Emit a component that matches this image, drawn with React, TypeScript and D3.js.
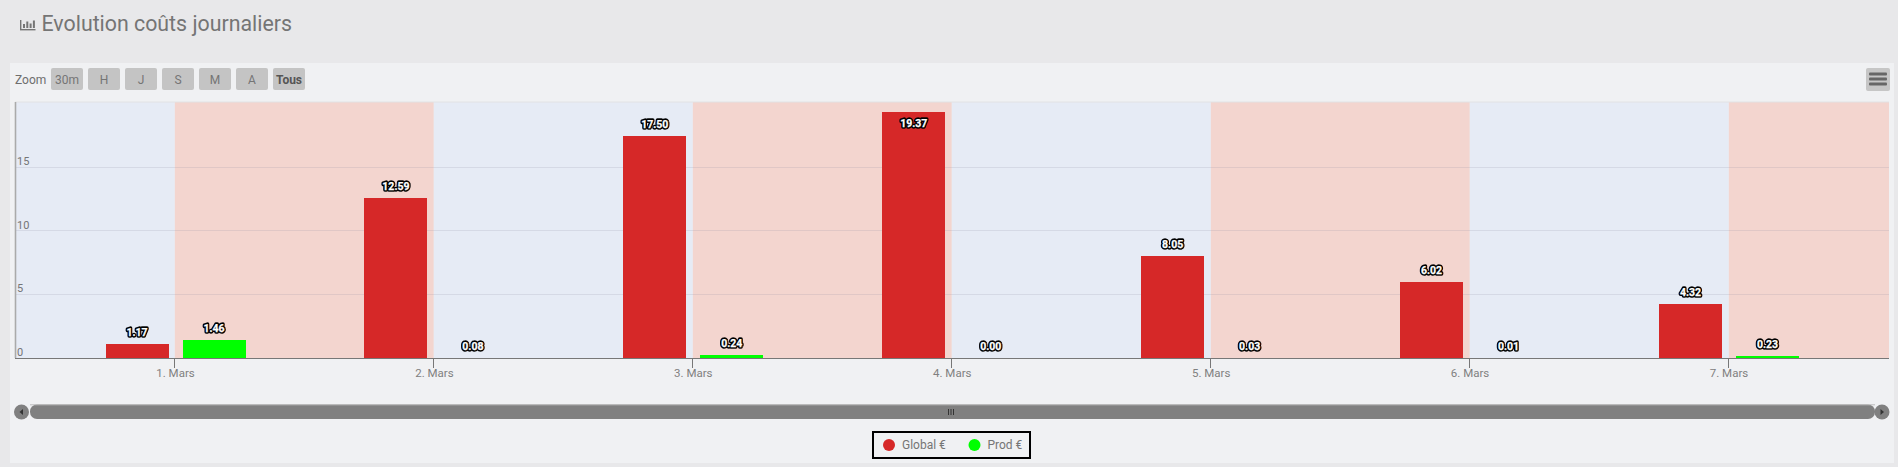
import React from "react";
import * as d3 from "d3";

const days = ["1. Mars", "2. Mars", "3. Mars", "4. Mars", "5. Mars", "6. Mars", "7. Mars"];
const globalValues = [1.17, 12.59, 17.5, 19.37, 8.05, 6.02, 4.32];
const prodValues = [1.46, 0.08, 0.24, 0.0, 0.03, 0.01, 0.23];
const yTicks = [0, 5, 10, 15];
const zoomButtons = ["30m", "H", "J", "S", "M", "A", "Tous"];
const legendItems = [
  { name: "Global €", color: "#d62828" },
  { name: "Prod €", color: "#00ff00" },
];

const FONT = "Roboto, sans-serif";
const x = d3.scaleLinear().domain([0, 6]).range([174.5, 1728]);
const xBand = d3.scaleLinear().domain([0, 6]).range([174.8, 1728.8]);
const y = d3.scaleLinear().domain([0, 19.37]).range([358, 111.8]);
const L = 15, R = 1889, T = 102, B = 358;
const BAR_W = 63;

const bandEdges = [L, ...days.map((_, i) => xBand(i)), R];
const barH = (v: number) => Math.max(0, Math.floor(B - y(v) - 0.02));

function Label({ cx, top, v }: { cx: number; top: number; v: number }) {
  const ty = Math.max(top - 8, 127);
  const s = v.toFixed(2);
  const common = {
    x: cx, y: ty, textAnchor: "middle" as const, fontFamily: FONT, fontSize: 10.5, fontWeight: 700,
  };
  return (
    <g>
      <text {...common} fill="#000" stroke="#000" strokeWidth={3.4} strokeLinejoin="round" filter="url(#halo)">{s}</text>
      <text {...common} fill="#fff" stroke="#fff" strokeWidth={0.25}>{s}</text>
    </g>
  );
}

export default function App() {
  return (
    <svg width={1898} height={467} style={{ position: "absolute", left: 0, top: 0, display: "block" }}>
      <defs>
        <filter id="halo" x="-30%" y="-50%" width="160%" height="200%">
          <feGaussianBlur stdDeviation={0.7} />
        </filter>
      </defs>
      <rect width={1898} height={467} fill="#e8e8ea" />
      {/* title */}
      <g fill="#757575">
        <rect x={20} y={20} width={1.4} height={10} />
        <rect x={20} y={29} width={15.5} height={1.4} />
        <rect x={23} y={24} width={2} height={4} />
        <rect x={26.3} y={21.5} width={2} height={6.5} />
        <rect x={29.6} y={23.5} width={2} height={4.5} />
        <rect x={32.9} y={20.5} width={2} height={7.5} />
      </g>
      <text x={41.5} y={31} fontFamily={FONT} fontSize={21.33} fill="#757575">Evolution coûts journaliers</text>

      {/* panel */}
      <rect x={10} y={63} width={1884} height={400} fill="#f0f1f3" />

      {/* range selector */}
      <text x={15} y={84} fontFamily={FONT} fontSize={12} fill="#6e6e6e">Zoom</text>
      {zoomButtons.map((b, i) => (
        <g key={b}>
          <rect x={51 + i * 37} y={68} width={32} height={22} rx={2} fill="#c4c4c4" />
          <text x={67 + i * 37} y={84} textAnchor="middle" fontFamily={FONT} fontSize={12}
            fontWeight={b === "Tous" ? 700 : 400} fill={b === "Tous" ? "#555" : "#757575"}>{b}</text>
        </g>
      ))}
      {/* menu */}
      <rect x={1866} y={68} width={24} height={23} rx={2} fill="#c6c6c6" />
      {[74, 79, 84].map((yy) => (
        <rect key={yy} x={1869} y={yy - 1.5} width={18} height={3} rx={1} fill="#666" />
      ))}

      {/* bands */}
      {bandEdges.slice(0, -1).map((e, i) => (
        <rect key={i} x={e} y={T} width={bandEdges[i + 1] - e} height={B - T}
          fill={i % 2 === 0 ? "#e6ebf5" : "#f3d5cf"} />
      ))}
      <line x1={L} x2={R} y1={T} y2={T} stroke="#e2e2e4" />
      {/* grid */}
      {yTicks.filter((t) => t > 0).map((t) => (
        <line key={t} x1={L} x2={R} y1={Math.floor(y(t)) + 0.5} y2={Math.floor(y(t)) + 0.5} stroke="#8a8aa0" strokeOpacity={0.18} />
      ))}
      {yTicks.map((t) => (
        <text key={t} x={17} y={y(t) - 2} fontFamily={FONT} fontSize={11} fill="#757575">{t}</text>
      ))}

      {/* bars */}
      {globalValues.map((v, i) => (
        <rect key={i} x={Math.round(x(i) - 69)} y={B - barH(v)} width={BAR_W} height={barH(v)} fill={legendItems[0].color} />
      ))}
      {prodValues.map((v, i) => (
        <rect key={i} x={Math.round(x(i) - 69) + 77} y={B - barH(v)} width={BAR_W} height={barH(v)} fill={legendItems[1].color} />
      ))}

      {/* axes */}
      <line x1={L} x2={R} y1={B + 0.5} y2={B + 0.5} stroke="#777" />
      <line x1={15.5} x2={15.5} y1={T} y2={B} stroke="#aaa" strokeWidth={1.6} />
      {days.map((d, i) => (
        <g key={d}>
          <line x1={Math.floor(x(i)) + 0.5} x2={Math.floor(x(i)) + 0.5} y1={B} y2={B + 10} stroke="#777" />
          <text x={x(i) + 1} y={377} textAnchor="middle" fontFamily={FONT} fontSize={11.5} fill="#808080">{d}</text>
        </g>
      ))}

      {/* labels */}
      {globalValues.map((v, i) => <Label key={i} cx={x(i) - 37.5} top={B - barH(v)} v={v} />)}
      {prodValues.map((v, i) => <Label key={i} cx={x(i) + 39.5} top={B - barH(v)} v={v} />)}

      {/* scrollbar */}
      <rect x={30} y={404.5} width={1845} height={14.5} rx={7} fill="#808080" />
      <line x1={30} x2={1875} y1={404.8} y2={404.8} stroke="#bbb" />
      <circle cx={21.5} cy={412} r={7.5} fill="#808080" />
      <circle cx={1882} cy={412} r={7.5} fill="#808080" />
      <path d="M23 409 L19.5 412 L23 415 Z" fill="#333" />
      <path d="M1880.5 409 L1884 412 L1880.5 415 Z" fill="#333" />
      {[948.5, 951, 953.5].map((g) => (
        <line key={g} x1={g} x2={g} y1={409} y2={415} stroke="#333" />
      ))}

      {/* legend */}
      <rect x={873} y={432} width={157} height={26} fill="#f0f1f3" stroke="#000" strokeWidth={2} />
      {legendItems.map((l, i) => {
        const cx = i === 0 ? 889 : 974.5;
        return (
          <g key={l.name}>
            <circle cx={cx} cy={445} r={6} fill={l.color} />
            <text x={cx + 13} y={449} fontFamily={FONT} fontSize={12} fill="#757575">{l.name}</text>
          </g>
        );
      })}
    </svg>
  );
}
